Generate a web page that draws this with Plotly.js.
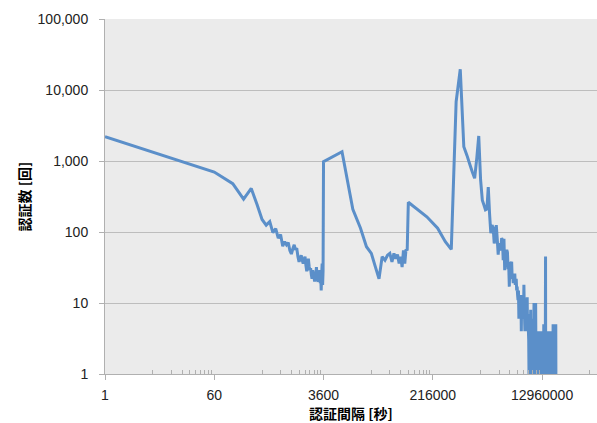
<!DOCTYPE html>
<html>
<head>
<meta charset="utf-8">
<script src="https://cdn.plot.ly/plotly-3.0.1.min.js"></script>
<style>html,body{margin:0;padding:0;background:#fff;}#chart{width:597px;height:423px;}</style>
</head>
<body>
<div id="chart"></div>
<script>
// Bins: first point (seconds), then per-minute, per-hour, per-day counts
const firstSeconds = [1];
const firstCounts = [2200];
const minuteCounts = [700,480,290,410,240,150,125,140,98,112,
  82,92,63,73,66,71,55,49,58,66,
  56,59,45,38,42,47,40,36,41,45,
  34,28,36,42,33,29,31,25,22,29,
  26,23,20,27,25,32,24,21,20,25,
  22,29,19,24,15,26,36,18,28];
const hourCounts = [980,1350,209,113,62,50,32,22,45,40,47,50,38,50,42,48,36,45,32,55,36,57,55];
const dayCounts = [262,164,113,73,57,6840,19600,1590,1200,900,700,570,1100,2250,
  540,280,240,205,210,430,180,96,125,115,69,85,125,80,48,70,
  60,55,82,78,40,80,29,40,52,56,52,30,35,17,38,30,36,38,22,25,19,23,20,26,18,21,22,15,17,13,
  11,15,6,9,12,10,8,13,4,12,11,8,6,10,7,18,9,6,4,11,11,7,5,8,6,12,4,7,5,4,
  3,1,5,2,6,1,4,8,1,5,1,4,3,1,5,1,6,1,4,3,10,1,4,5,1,4,1,10,3,1,4,1,4,1,4,
  1,4,1,3,4,1,4,1,3,1,4,2,4,1,3,4,1,4,1,3,1,4,1,4,2,1,4,1,3,1,4,1,4,1,5,1,3,4,1,4,1,3,1,4,5,
  45,
  1,4,1,3,1,4,1,4,2,1,4,1,3,4,1,4,1,3,1,4,1,4,1,3,1,4,2,1,4,1,3,1,4,1,4,1,3,1,4,1,
  4,1,3,1,4,1,4,2,1,4,1,3,1,4,1,5,1,4,1,3,1,4,1,4,5,1,4,1,3,1,4,1,5,1,3,4,1,4,1,5,1,1];
const xTickVals = [1, 60, 3600, 216000, 12960000];
const xTickText = ['1', '60', '3600', '216000', '12960000'];
const yTickVals = [1, 10, 100, 1000, 10000, 100000];
const yTickText = ['1', '10', '100', '1,000', '10,000', '100,000'];
const xTitle = '認証間隔 [秒]';
const yTitle = '認証数 [回]';

const xs = [], ys = [];
firstSeconds.forEach((s, i) => { xs.push(s); ys.push(firstCounts[i]); });
minuteCounts.forEach((c, i) => { xs.push((i + 1) * 60); ys.push(c); });
hourCounts.forEach((c, i) => { xs.push((i + 1) * 3600); ys.push(c); });
dayCounts.forEach((c, i) => { xs.push((i + 1) * 86400); ys.push(c); });

const minorTicks = [];
xTickVals.forEach(m => { for (let j = 1; j <= 9; j++) minorTicks.push(m * 6 * j); });

const tickFont = {family: 'Liberation Sans, Arial, sans-serif', size: 14, color: '#222'};
const titleFont = {family: 'Noto Sans CJK JP, sans-serif', size: 14, color: '#000'};

Plotly.newPlot('chart', [{
  x: xs, y: ys, type: 'scatter', mode: 'lines',
  line: {color: '#5B8FC9', width: 3, simplify: false},
  hoverinfo: 'x+y'
}], {
  width: 597, height: 423,
  margin: {l: 105, r: 0, t: 19, b: 49},
  paper_bgcolor: '#ffffff',
  plot_bgcolor: '#ebebeb',
  showlegend: false,
  xaxis: {
    type: 'log', range: [0, Math.log10(60) * 4.503], autorange: false,
    tickvals: xTickVals, ticktext: xTickText,
    ticks: 'outside', ticklen: 5, tickcolor: '#b0b0b0', tickwidth: 1,
    showline: true, linecolor: '#b0b0b0', linewidth: 1,
    showgrid: false, zeroline: false,
    tickfont: tickFont, ticklabelstandoff: 3,
    minor: {tickvals: minorTicks, ticks: 'inside', ticklen: 4, tickcolor: '#b0b0b0', showgrid: false},
    title: {text: '<b>' + xTitle + '</b>', font: titleFont, standoff: 5},
    automargin: false
  },
  yaxis: {
    type: 'log', range: [0, 5], autorange: false,
    tickvals: yTickVals, ticktext: yTickText,
    ticks: 'outside', ticklen: 5, tickcolor: '#b0b0b0', tickwidth: 1,
    showline: true, linecolor: '#b0b0b0', linewidth: 1,
    showgrid: true, gridcolor: '#bdbdbd', gridwidth: 1, zeroline: false,
    tickfont: tickFont, ticklabelstandoff: 8,
    title: {text: '<b>' + yTitle + '</b>', font: titleFont, standoff: 3},
    automargin: false
  }
}, {staticPlot: true, displayModeBar: false});
</script>
</body>
</html>
